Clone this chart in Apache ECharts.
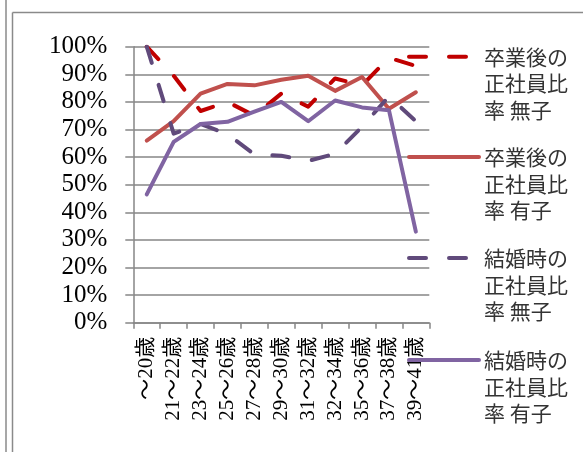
<!DOCTYPE html>
<html>
<head>
<meta charset="utf-8">
<script src="https://cdn.jsdelivr.net/npm/echarts@6/dist/echarts.min.js"></script>
<style>
html,body{margin:0;padding:0;background:#fff;}
#chart{width:583px;height:452px;}
</style>
</head>
<body>
<div id="chart"></div>
<script>
const categories = ["～20歳","21～22歳","23～24歳","25～26歳","27～28歳","29～30歳","31～32歳","32～34歳","35～36歳","37～38歳","39～41歳"];
const seriesNames = ["卒業後の正社員比率 無子","卒業後の正社員比率 有子","結婚時の正社員比率 無子","結婚時の正社員比率 有子"];
const gradNoKids = [100, 89.5, 76.7, 80, 75, 83, 78.3, 88.5, 86, 96, 93];
const gradKids   = [66, 73, 83, 86.5, 86, 88, 89.5, 84, 89, 77.5, 83.5];
const marNoKids  = [100, 68.5, 72, 68.3, 61, 60.5, 58.6, 61.2, 71, 82, 73];
const marKids    = [46.5, 65.5, 72, 72.8, 76.5, 80, 73, 80.5, 78, 77, 33];

const serif = '"Liberation Serif", "Noto Sans CJK JP", serif';
const dash = [17, 23];
const colors = ['#C00000', '#C0504D', '#604A7B', '#8064A2'];
const dataSets = [gradNoKids, gradKids, marNoKids, marKids];
const types = [dash, 'solid', dash, 'solid'];

const chart = echarts.init(document.getElementById('chart'), null, {renderer: 'canvas'});

const legendTops = [56.7, 157, 258, 360];
const LH = 26.7;
const legends = seriesNames.map((n, i) => ({
  data: [n],
  orient: 'vertical',
  left: 407,
  top: legendTops[i] - 2.5 * LH,
  padding: 0,
  itemWidth: 70,
  itemHeight: 14,
  selectedMode: false,
  itemStyle: {opacity: 0, borderWidth: 0},
  lineStyle: {color: colors[i], width: 4, type: types[i], cap: 'round', opacity: 1},
  formatter: function (name) {
    return ' \n \n' + name.slice(0, 4) + '\n' + name.slice(4, 8) + '\n' + name.slice(8);
  },
  textStyle: {
    fontFamily: '"Noto Sans CJK JP", sans-serif',
    fontSize: 21,
    lineHeight: LH,
    color: '#333'
  }
}));

const option = {
  animation: false,
  backgroundColor: '#fff',
  legend: legends,
  grid: {left: 133.3, right: 153.7, top: 46.7, bottom: 129.3, containLabel: false},
  xAxis: {
    type: 'category',
    data: categories,
    boundaryGap: true,
    axisLine: {show: true, lineStyle: {color: '#868686', width: 1.5}},
    axisTick: {show: true, length: 6, alignWithLabel: false, lineStyle: {color: '#868686', width: 1.5}},
    axisLabel: {
      interval: 0,
      rotate: 90,
      margin: 14,
      fontFamily: serif,
      fontSize: 21,
      color: '#000'
    },
    splitLine: {show: false}
  },
  yAxis: {
    type: 'value',
    min: 0,
    max: 100,
    interval: 10,
    axisLine: {show: true, lineStyle: {color: '#868686', width: 1.5}},
    axisTick: {show: true, length: 8, inside: false, lineStyle: {color: '#868686', width: 1.5}},
    axisLabel: {
      formatter: '{value}%',
      margin: 26,
      fontFamily: serif,
      fontSize: 25,
      color: '#000'
    },
    splitLine: {show: true, lineStyle: {color: '#868686', width: 1.5}}
  },
  series: seriesNames.map((n, i) => ({
    name: n,
    type: 'line',
    data: dataSets[i],
    showSymbol: false,
    symbol: 'none',
    color: colors[i],
    lineStyle: {color: colors[i], width: 4, type: types[i], cap: 'round', join: 'round'},
    z: 2 + i
  })),
  graphic: [
    {type: 'line', shape: {x1: 6, y1: 0, x2: 6, y2: 452}, style: {stroke: '#8a8a8a', lineWidth: 1.5}},
    {type: 'line', shape: {x1: 12.5, y1: 12.5, x2: 12.5, y2: 452}, style: {stroke: '#8a8a8a', lineWidth: 1.5}},
    {type: 'line', shape: {x1: 12.5, y1: 12.5, x2: 583, y2: 12.5}, style: {stroke: '#8a8a8a', lineWidth: 1.5}}
  ]
};
chart.setOption(option);
</script>
</body>
</html>
